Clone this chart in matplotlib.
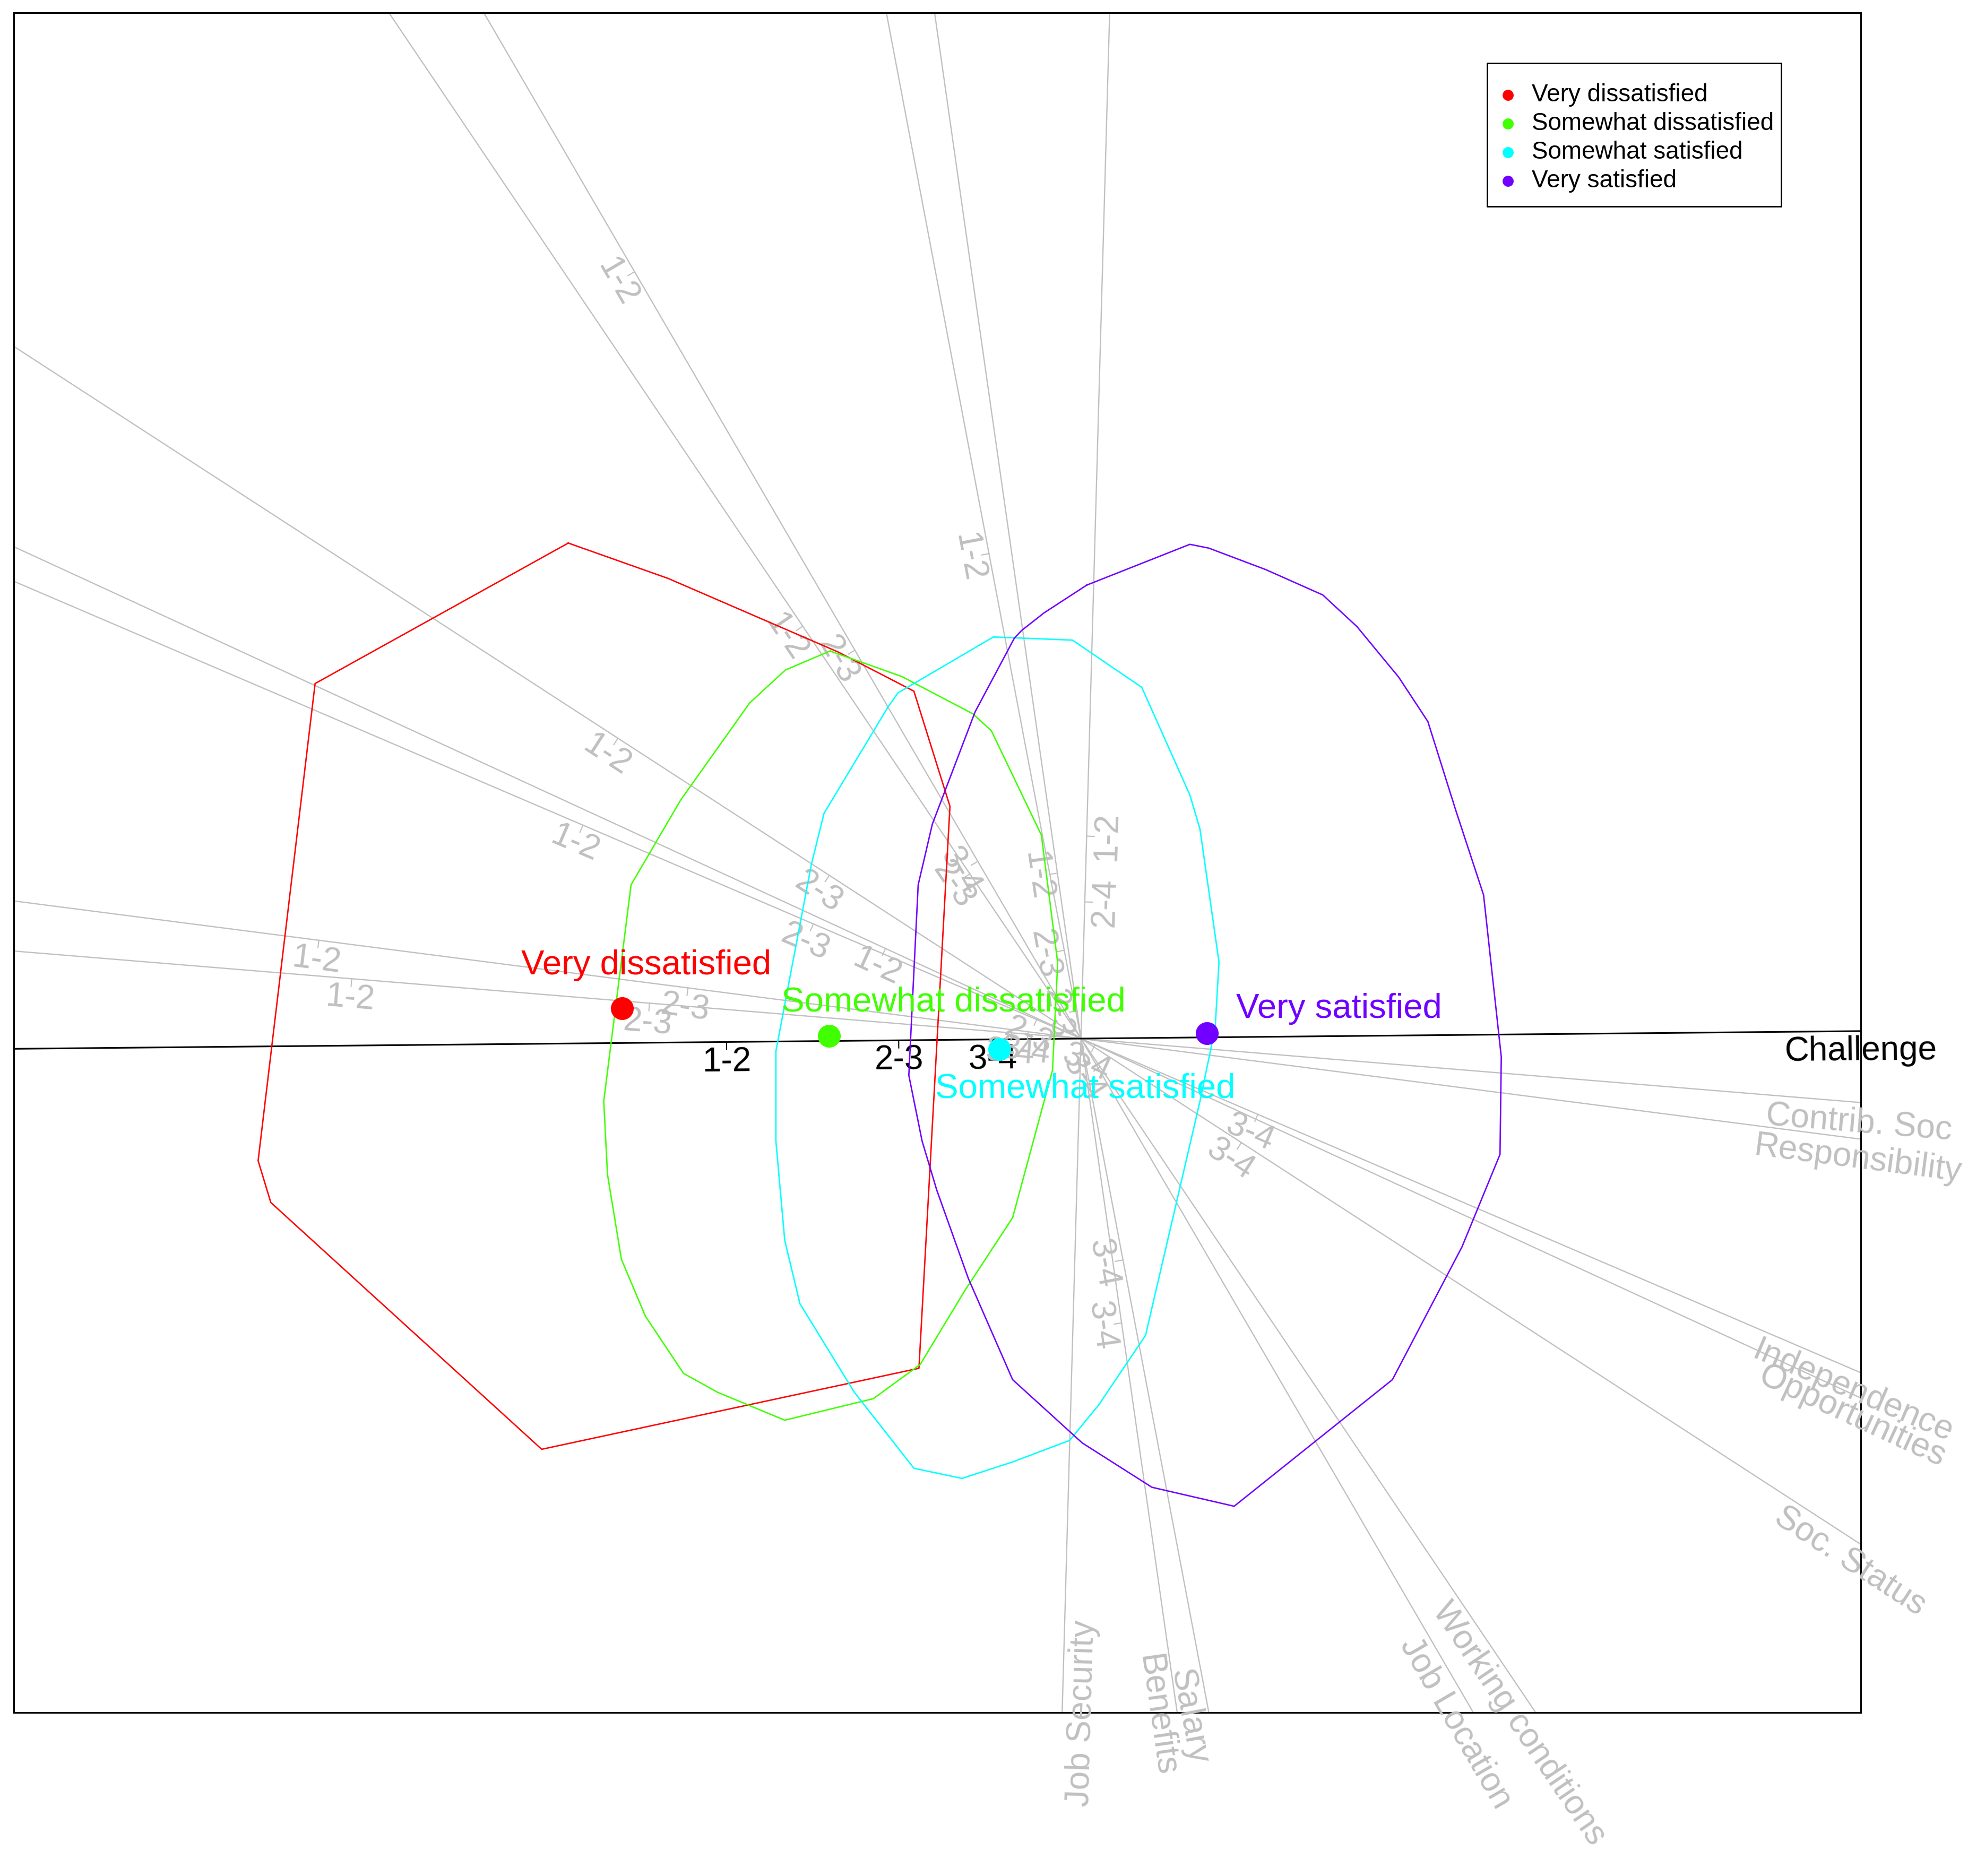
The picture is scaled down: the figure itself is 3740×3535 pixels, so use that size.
import numpy as np
import matplotlib
matplotlib.use("Agg")
import matplotlib.pyplot as plt
from matplotlib.patches import Rectangle

plt.rcParams['font.family'] = ['Liberation Sans', 'DejaVu Sans']

# ---------------- data ----------------
groups = ["Very dissatisfied", "Somewhat dissatisfied", "Somewhat satisfied", "Very satisfied"]
group_colors = ["#FF0000", "#40FF00", "#00FFFF", "#7000FF"]
mean_x = [-3.625, -1.99, -0.644, 0.995]
mean_y = [0.239, 0.02, -0.083, 0.041]

bag_vd_x = [-4.05, -3.26, -1.92, -1.32, -1.035, -1.28, -4.26, -6.40, -6.50, -6.05]
bag_vd_y = [3.915, 3.635, 3.055, 2.745, 1.835, -2.605, -3.245, -1.295, -0.965, 2.805]

bag_sd_x = [-1.982, -1.414, -0.853, -0.708, -0.313, -0.184, -0.225, -0.54, -0.92, -1.27,
            -1.64, -2.34, -2.87, -3.14, -3.44, -3.63, -3.74, -3.77, -3.554, -3.162, -2.617, -2.335]
bag_sd_y = [3.062, 2.86, 2.565, 2.432, 1.608, 0.60, -0.25, -1.415, -1.995, -2.575,
            -2.845, -3.015, -2.795, -2.645, -2.195, -1.745, -1.075, -0.495, 1.215, 1.885, 2.652, 2.912]

bag_ss_x = [-0.692, -0.067, 0.48, 0.86, 0.94, 1.09, 1.06, 0.94, 0.51, 0.14, -0.09, -0.54, -0.94,
            -1.32, -1.79, -2.22, -2.34, -2.41, -2.41, -2.13, -2.03, -1.526, -1.446]
bag_ss_y = [3.173, 3.148, 2.775, 1.925, 1.655, 0.605, 0.085, -0.495, -2.345, -2.895, -3.175, -3.345, -3.475,
            -3.395, -2.795, -2.095, -1.595, -0.81, -0.10, 1.375, 1.779, 2.617, 2.731]

bag_vs_x = [0.046, 0.86, 1.01, 1.46, 1.91, 2.18, 2.51, 2.74, 2.96, 3.18, 3.32, 3.31, 3.01, 2.46,
            1.21, 0.56, 0.01, -0.54, -0.89, -1.14, -1.255, -1.36, -1.315, -1.286, -1.174, -0.836,
            -0.525, -0.468, -0.291]
bag_vs_y = [3.583, 3.905, 3.875, 3.705, 3.505, 3.255, 2.855, 2.505, 1.805, 1.135, -0.145, -0.915, -1.645, -2.695,
            -3.695, -3.545, -3.195, -2.695, -1.895, -1.195, -0.81, -0.29, 0.628, 1.215, 1.695, 2.582,
            3.166, 3.225, 3.364]

variables = ["Challenge", "Contrib. Soc", "Responsibility", "Independence", "Opportunities",
             "Soc. Status", "Working conditions", "Job Location", "Salary", "Benefits", "Job Security"]
load_x = [0.99995, 0.99665, 0.99178, 0.91914, 0.90814, 0.83894, 0.55919, 0.50302, 0.18635, 0.14125, -0.02792]
load_y = [0.0096, -0.08177, -0.12793, -0.39394, -0.41866, -0.54424, -0.82904, -0.86427, -0.98248, -0.98997, -0.99961]

tick_var = [0, 0, 0,
            1, 1, 1,
            2, 2, 2,
            3, 3, 3,
            4, 4, 4,
            5, 5, 5,
            6, 6, 6,
            7, 7, 7,
            8, 8, 8,
            9, 9, 9,
            10, 10]
tick_lab = ["1-2", "2-3", "3-4",
            "1-2", "2-3", "3-4",
            "1-2", "2-3", "3-4",
            "1-2", "2-3", "3-4",
            "1-2", "2-3", "3-4",
            "1-2", "2-3", "3-4",
            "1-2", "2-3", "3-4",
            "1-2", "2-3", "3-4",
            "1-2", "2-3", "3-4",
            "1-2", "2-3", "3-4",
            "1-2", "2-4"]
tick_pos = [-2.80, -1.44, -0.70,
            -5.78, -3.42, -0.55,
            -6.07, -3.13, -0.42,
            -4.28, -2.30, 1.52,
            -1.70, -0.38, 0.12,
            -4.36, -2.37, 1.51,
            -3.93, -1.57, 0.27,
            -7.01, -3.55, -1.62,
            -3.90, -0.71, 1.78,
            -1.32, -0.22, 2.27,
            -1.60, -1.08]

# ---------------- figure ----------------
W, H = 3740, 3535
fig = plt.figure(figsize=(W / 100, H / 100), dpi=100)
ax = fig.add_axes([26 / W, 1 - 3227 / H, (3506 - 26) / W, (3227 - 24) / H])
xlim = (-8.43, 6.16)
ylim = (-5.325, 8.105)
ax.set_xlim(*xlim)
ax.set_ylim(*ylim)
ax.set_xticks([])
ax.set_yticks([])
for s in ax.spines.values():
    s.set_linewidth(2.2)
    s.set_color("black")

GREY = "#C0C0C0"
FS = 46
OFF = 0.16
TICK = 0.06


def text_angle(u):
    a = np.degrees(np.arctan2(u[1], u[0]))
    if a > 90:
        a -= 180
    if a <= -90:
        a += 180
    return a


def box_t(u):
    ts = []
    for k, lim in ((0, xlim), (1, ylim)):
        if abs(u[k]) > 1e-12:
            for b in lim:
                ts.append(b / u[k])
    tpos = min(t for t in ts if t > 0)
    tneg = max(t for t in ts if t < 0)
    return tneg, tpos


for i, name in enumerate(variables):
    u = np.array([load_x[i], load_y[i]])
    u = u / np.linalg.norm(u)
    col = "black" if i == 0 else GREY
    lw = 2.2 if i == 0 else 1.7
    tneg, tpos = box_t(u)
    ax.plot([tneg * u[0], tpos * u[0]], [tneg * u[1], tpos * u[1]], color=col, lw=lw, zorder=2 if i == 0 else 1)
    ang = text_angle(u)
    n = np.array([np.cos(np.radians(ang - 90)), np.sin(np.radians(ang - 90))])
    end = tpos * u + OFF * n
    ax.text(end[0], end[1], name, color=col, fontsize=FS, rotation=ang, rotation_mode="anchor",
            ha="center", va="center", clip_on=False, zorder=3)

for v, lab, d in zip(tick_var, tick_lab, tick_pos):
    u = np.array([load_x[v], load_y[v]])
    u = u / np.linalg.norm(u)
    col = "black" if v == 0 else GREY
    ang = text_angle(u)
    n = np.array([np.cos(np.radians(ang - 90)), np.sin(np.radians(ang - 90))])
    p = d * u
    q = p + TICK * n
    ax.plot([p[0], q[0]], [p[1], q[1]], color=col, lw=1.5, zorder=2)
    lp = p + OFF * n
    ax.text(lp[0], lp[1], lab, color=col, fontsize=FS, rotation=ang, rotation_mode="anchor",
            ha="center", va="center", zorder=3)

bags = [(bag_vd_x, bag_vd_y), (bag_sd_x, bag_sd_y), (bag_ss_x, bag_ss_y), (bag_vs_x, bag_vs_y)]
for (bx, by), c in zip(bags, group_colors):
    ax.plot(list(bx) + [bx[0]], list(by) + [by[0]], color=c, lw=1.9, zorder=4)

label_off = [(33, 58), (169, 46), (116, -54), (179, 33)]
for g, c, x, y, off in zip(groups, group_colors, mean_x, mean_y, label_off):
    ax.plot([x], [y], "o", color=c, ms=30, mec=c, zorder=5)
    ax.annotate(g, (x, y), xytext=off, textcoords="offset points", color=c, fontsize=47,
                ha="center", va="center", zorder=6)

# ---- legend (drawn as a framed key in axes fraction) ----
leg_left, leg_right, leg_top, leg_bottom = 0.7978, 0.9568, 0.9702, 0.8861
ax.add_patch(Rectangle((leg_left, leg_bottom), leg_right - leg_left, leg_top - leg_bottom,
                       transform=ax.transAxes, fill=True, facecolor="white", edgecolor="black",
                       lw=2.0, zorder=7))
entry_y0, entry_step = 0.9516, 0.01688
dot_x, txt_x = 0.8088, 0.8218
for k, (g, c) in enumerate(zip(groups, group_colors)):
    yy = entry_y0 - k * entry_step
    ax.plot([dot_x], [yy], "o", color=c, ms=14, mec=c, transform=ax.transAxes, zorder=8)
    ax.text(txt_x, yy, g, transform=ax.transAxes, fontsize=33, ha="left", va="center", zorder=8)

fig.savefig("out.png", dpi=100)
